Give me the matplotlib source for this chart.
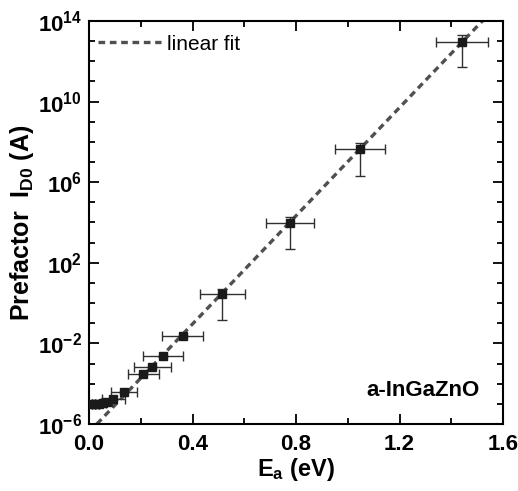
import matplotlib
matplotlib.use("Agg")
import matplotlib.pyplot as plt
import numpy as np
from matplotlib.ticker import FixedLocator, FuncFormatter, NullFormatter

plt.rcParams['font.family'] = ['Liberation Sans', 'DejaVu Sans']
plt.rcParams['mathtext.fontset'] = 'custom'
plt.rcParams['mathtext.rm'] = 'Liberation Sans'
plt.rcParams['mathtext.bf'] = 'Liberation Sans:bold'
plt.rcParams['mathtext.it'] = 'Liberation Sans:italic'

# Data
Ea = [0.012, 0.025, 0.04, 0.055, 0.07, 0.094, 0.135, 0.21, 0.245, 0.287,
      0.362, 0.515, 0.777, 1.047, 1.44]
ID0 = [9.8e-6, 9.8e-6, 1.0e-5, 1.1e-5, 1.25e-5, 1.66e-5, 3.7e-5, 3.0e-4,
       6.9e-4, 2.45e-3, 2.4e-2, 2.75, 9.1e3, 4.47e7, 9.3e12]
Ea_err = [0.0, 0.0, 0.0, 0.01, 0.02, 0.044, 0.05, 0.06, 0.07, 0.077,
          0.08, 0.086, 0.092, 0.097, 0.1]
ID0_err_low = [0, 0, 0, 0, 0, 0, 0, 0, 0, 0, 0, 2.6, 8.6e3, 4.26e7, 8.8e12]
ID0_err_high = [0, 0, 0, 0, 0, 0, 0, 0, 0, 0, 0, 2.25, 9.1e3, 4.0e7, 1.07e13]

fit_intercept = -6.41   # log10(I) at Ea = 0
fit_slope = 13.43       # decades per eV

xticks = [0.0, 0.4, 0.8, 1.2, 1.6]
yticks_exp = [-6, -2, 2, 6, 10, 14]

fig = plt.figure(figsize=(5.18, 4.91), dpi=100)
ax = fig.add_axes([0.1718, 0.1365, 0.7994, 0.8207])

# fit line
e_fit = np.linspace(0, 1.6, 200)
ax.plot(e_fit, 10 ** (fit_intercept + fit_slope * e_fit), linestyle=(0, (2.0, 1.4)),
        color='#505050', linewidth=2.4, label='linear fit', zorder=2)

ax.errorbar(Ea, ID0, xerr=Ea_err, yerr=[ID0_err_low, ID0_err_high], fmt='s',
            color='#1a1a1a', markersize=6, ecolor='#303030', elinewidth=1.0,
            capsize=3.5, capthick=1.0, zorder=3)

ax.set_yscale('log')
ax.set_xlim(0, 1.6)
ax.set_ylim(1e-6, 1e14)

ax.xaxis.set_major_locator(FixedLocator(xticks))
ax.xaxis.set_minor_locator(FixedLocator([0.2, 0.6, 1.0, 1.4]))
ax.xaxis.set_major_formatter(FuncFormatter(lambda v, p: f'{v:.1f}'))
ax.yaxis.set_major_locator(FixedLocator([10.0 ** k for k in yticks_exp]))
ax.yaxis.set_minor_locator(FixedLocator([10.0 ** k for k in range(-6, 15)]))
ax.yaxis.set_major_formatter(FuncFormatter(
    lambda v, p: r'$\mathbf{10^{%d}}$' % int(round(np.log10(v)))))
ax.yaxis.set_minor_formatter(NullFormatter())

ax.tick_params(which='both', direction='in', top=True, right=True, width=1.3)
ax.tick_params(which='major', length=7, labelsize=16)
ax.tick_params(axis='y', which='major', pad=5)
ax.tick_params(axis='x', which='major', pad=7)
ax.tick_params(which='minor', length=4)
for lbl in ax.get_xticklabels():
    lbl.set_fontweight('bold')
for s in ax.spines.values():
    s.set_linewidth(1.5)

ax.set_xlabel(r'E$_{\mathbf{a}}$ (eV)', fontsize=17, fontweight='bold', labelpad=1)
ax.set_ylabel(r'Prefactor  I$_{\mathbf{D0}}$ (A)', fontsize=18, fontweight='bold', labelpad=1)

leg = ax.legend(loc='upper left', frameon=False, fontsize=15, handlelength=3.0,
                handletextpad=0.3, borderaxespad=0.35, borderpad=0.3,
                bbox_to_anchor=(-0.01, 1.0))

ax.text(0.944, 0.082, 'a-InGaZnO', transform=ax.transAxes, ha='right', va='center',
        fontsize=16, fontweight='bold')

fig.savefig('out.png', dpi=100)
